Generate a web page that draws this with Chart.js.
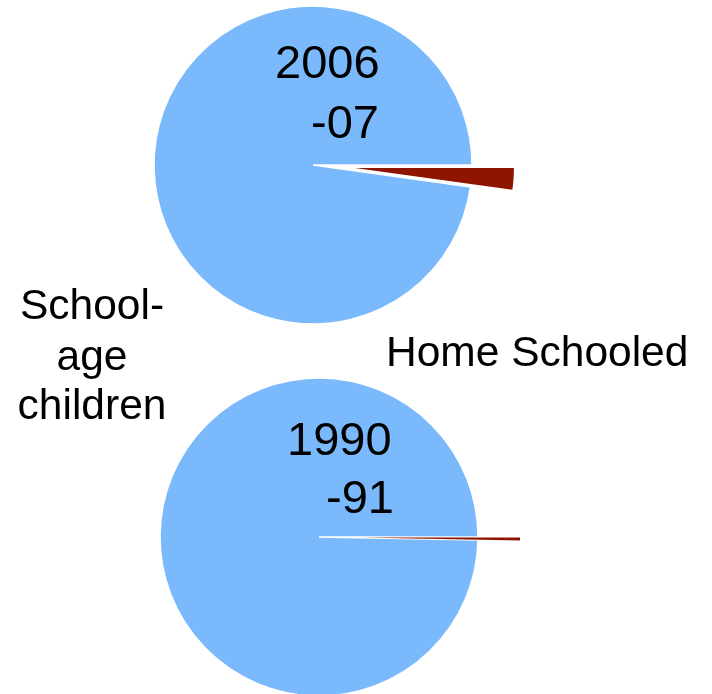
<!DOCTYPE html>
<html>
<head>
<meta charset="utf-8">
<script src="https://cdn.jsdelivr.net/npm/chart.js@4/dist/chart.umd.min.js"></script>
<style>
  html, body { margin: 0; padding: 0; background: #fff; overflow: hidden; }
  body { width: 712px; height: 694px; position: relative; font-family: "Liberation Sans", Arial, sans-serif; color: #000; }
  canvas { position: absolute; }
  .txt { position: absolute; line-height: 1; white-space: nowrap; z-index: 2; }
  .yr { font-size: 47px; }
  .lbl { font-size: 42.5px; }
</style>
</head>
<body>
<canvas id="pie-2006" width="460" height="340" style="left:83px; top:-5px"></canvas>
<canvas id="pie-1990" width="460" height="340" style="left:89px; top:367px"></canvas>

<div class="txt yr" style="left:275px; top:38px">2006</div>
<div class="txt yr" style="left:311px; top:98px">-07</div>
<div class="txt yr" style="left:287px; top:415px">1990</div>
<div class="txt yr" style="left:326px; top:473px">-91</div>

<div class="txt lbl" style="left:-8px; width:200px; text-align:center; top:284px">School-</div>
<div class="txt lbl" style="left:-8px; width:200px; text-align:center; top:335px">age</div>
<div class="txt lbl" style="left:-8px; width:200px; text-align:center; top:384px">children</div>
<div class="txt lbl" style="left:386px; top:331px">Home Schooled</div>

<script>
(function () {
  'use strict';

  const categories = ['School-age children', 'Home Schooled'];
  const years = ['2006-07', '1990-91'];
  // share of school-age children, percent
  const values2006 = [97.8, 2.2];
  const values1990 = [99.7, 0.3];

  const BLUE = '#7ab9fb';
  const RED = '#8e1600';

  // pull slices out along their bisector without growing them
  // (chart.js "offset" also enlarges the arc and narrows its angle)
  const explode = {
    id: 'explode',
    afterDatasetUpdate(chart, args, opts) {
      const meta = chart.getDatasetMeta(args.index);
      meta.data.forEach((arc, i) => {
        const d = (opts.distance || [])[i] || 0;
        if (!d) return;
        const mid = (arc.startAngle + arc.endAngle) / 2;
        arc.x += Math.cos(mid) * d;
        arc.y += Math.sin(mid) * d;
      });
    },
  };

  function makePie(id, values) {
    const total = values[0] + values[1];
    // home schooled slice (drawn last) starts at 3 o'clock
    const rotation = 90 + 360 * values[1] / total;
    new Chart(document.getElementById(id), {
      type: 'pie',
      data: {
        labels: categories,
        datasets: [{
          data: values,
          backgroundColor: [BLUE, RED],
          borderColor: '#ffffff',
          borderWidth: [1.5, 0],
          clip: false,
        }],
      },
      options: {
        responsive: false,
        animation: false,
        rotation: rotation,
        radius: 159,
        layout: { padding: 0 },
        plugins: {
          legend: { display: false },
          tooltip: { enabled: false },
          explode: { distance: [0, 42] },
        },
      },
      plugins: [explode],
    });
  }

  makePie('pie-2006', values2006);
  makePie('pie-1990', values1990);
})();
</script>
</body>
</html>
